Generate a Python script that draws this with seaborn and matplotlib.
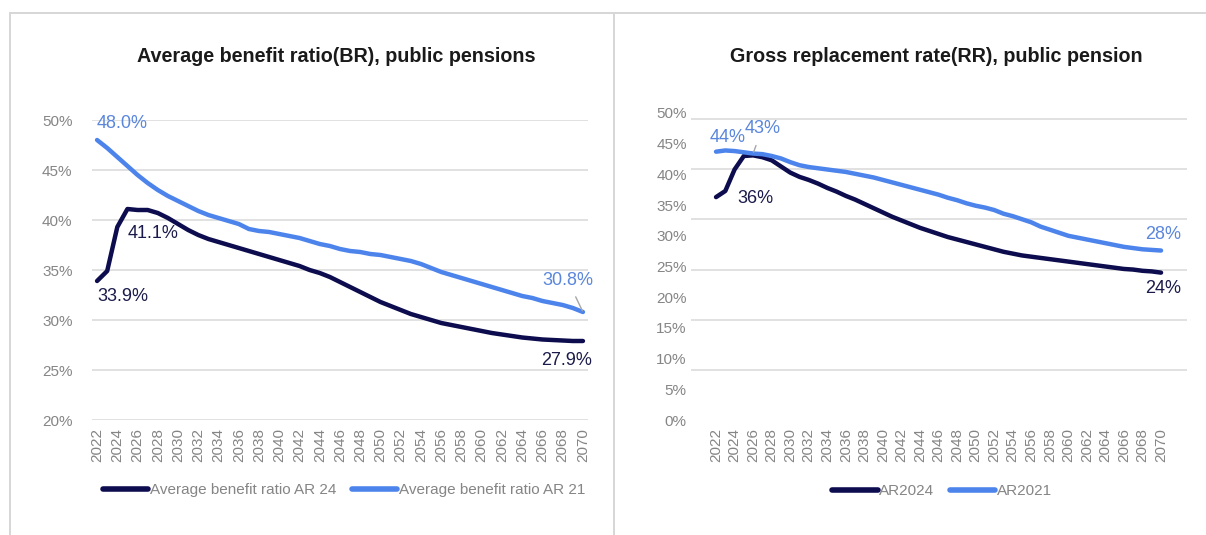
import numpy as np
import pandas as pd
import matplotlib
matplotlib.use("Agg")
import matplotlib.pyplot as plt
from matplotlib.lines import Line2D
from matplotlib.ticker import FuncFormatter, FixedLocator
import seaborn as sns

# ---- data -------------------------------------------------------------
years = list(range(2022, 2071))

# Average benefit ratio (%), public pensions
br_ar24 = [33.9, 34.9, 39.3, 41.1, 41.0, 41.0, 40.7, 40.2, 39.6, 39.0,
           38.5, 38.1, 37.8, 37.5, 37.2, 36.9, 36.6, 36.3, 36.0, 35.7,
           35.4, 35.0, 34.7, 34.3, 33.8, 33.3, 32.8, 32.3, 31.8, 31.4,
           31.0, 30.6, 30.3, 30.0, 29.7, 29.5, 29.3, 29.1, 28.9, 28.7,
           28.55, 28.4, 28.25, 28.15, 28.05, 28.0, 27.95, 27.9, 27.9]
br_ar21 = [48.0, 47.2, 46.3, 45.4, 44.5, 43.7, 43.0, 42.4, 41.9, 41.4,
           40.9, 40.5, 40.2, 39.9, 39.6, 39.1, 38.9, 38.8, 38.6, 38.4,
           38.2, 37.9, 37.6, 37.4, 37.1, 36.9, 36.8, 36.6, 36.5, 36.3,
           36.1, 35.9, 35.6, 35.2, 34.8, 34.5, 34.2, 33.9, 33.6, 33.3,
           33.0, 32.7, 32.4, 32.2, 31.9, 31.7, 31.5, 31.2, 30.8]

# Gross replacement rate (%), public pension
rr_ar2024 = [36.3, 37.3, 40.8, 43.0, 43.1, 42.8, 42.3, 41.3, 40.3, 39.6,
             39.1, 38.5, 37.8, 37.2, 36.5, 35.9, 35.2, 34.5, 33.8, 33.1,
             32.5, 31.9, 31.3, 30.8, 30.3, 29.8, 29.4, 29.0, 28.6, 28.2,
             27.8, 27.4, 27.1, 26.8, 26.6, 26.4, 26.2, 26.0, 25.8, 25.6,
             25.4, 25.2, 25.0, 24.8, 24.6, 24.5, 24.3, 24.2, 24.0]
rr_ar2021 = [43.7, 43.9, 43.8, 43.6, 43.4, 43.3, 43.0, 42.6, 42.0, 41.5,
             41.2, 41.0, 40.8, 40.6, 40.4, 40.1, 39.8, 39.5, 39.1, 38.7,
             38.3, 37.9, 37.5, 37.1, 36.7, 36.2, 35.8, 35.3, 34.9, 34.6,
             34.2, 33.6, 33.2, 32.7, 32.2, 31.5, 31.0, 30.5, 30.0, 29.7,
             29.4, 29.1, 28.8, 28.5, 28.2, 28.0, 27.8, 27.7, 27.6]

br_names = ["Average benefit ratio AR 24", "Average benefit ratio AR 21"]
rr_names = ["AR2024", "AR2021"]
titles = ["Average benefit ratio(BR), public pensions",
          "Gross replacement rate(RR), public pension"]

# ---- style ------------------------------------------------------------
sns.set_style("white")
plt.rcParams["font.family"] = ["Liberation Sans", "DejaVu Sans"]

NAVY = "#0c0c4e"
BLUE = "#4c84ec"
NAVY_TXT = "#1b1b4b"
BLUE_TXT = "#5a86dc"
GRID = "#d9d9d9"
TICK = "#858585"

W, H = 1206, 535
fig = plt.figure(figsize=(W / 100, H / 100), dpi=100)


def px_axes(x0, y_top, x1, y_bot):
    return fig.add_axes([x0 / W, 1 - y_bot / H, (x1 - x0) / W, (y_bot - y_top) / H])


def long_frame(a, b, names):
    idx = np.arange(len(years))
    return pd.DataFrame({
        "pos": np.concatenate([idx, idx]),
        "value": np.concatenate([a, b]),
        "series": [names[0]] * len(a) + [names[1]] * len(b),
    })


def draw_panel(ax, a, b, names):
    df = long_frame(a, b, names)
    sns.lineplot(data=df, x="pos", y="value", hue="series", hue_order=names,
                 palette={names[0]: NAVY, names[1]: BLUE}, lw=3.2, ax=ax,
                 legend=True)
    for ln in ax.get_lines():
        ln.set_solid_capstyle("round")
    ax.set_xlabel("")
    ax.set_ylabel("")
    for s in ax.spines.values():
        s.set_visible(False)
    ax.set_xticks(np.arange(0, len(years), 2))
    ax.set_xticklabels([str(y) for y in years[::2]], rotation=90)
    ax.tick_params(axis="both", length=0, colors=TICK, labelsize=11)
    ax.tick_params(axis="x", pad=6)
    ax.yaxis.set_major_formatter(FuncFormatter(lambda v, _: f"{v:.0f}%"))


# ---- left panel: benefit ratio -----------------------------------------
axL = px_axes(92, 120, 588, 420)
draw_panel(axL, br_ar24, br_ar21, br_names)
axL.set_xlim(-0.5, len(years) - 0.5)
axL.set_ylim(20, 50)
axL.set_yticks(np.arange(20, 51, 5))
axL.tick_params(axis="y", pad=14)
axL.grid(axis="y", color=GRID, lw=1.1)
axL.set_axisbelow(True)

# ---- right panel: replacement rate -------------------------------------
axR = px_axes(691, 113, 1187, 420)
draw_panel(axR, rr_ar2024, rr_ar2021, rr_names)
axR.set_xlim(-2.7, len(years) - 1 + 2.8)
axR.set_ylim(0, 50)
axR.set_yticks(np.arange(0, 51, 5))
axR.tick_params(axis="y", pad=3)
axR.yaxis.set_minor_locator(FixedLocator(np.linspace(0, 49, 7)))
axR.grid(axis="y", which="minor", color=GRID, lw=1.1)
axR.grid(axis="y", which="major", visible=False)
axR.tick_params(axis="y", which="minor", length=0)
axR.set_axisbelow(True)

# ---- legends -----------------------------------------------------------
for ax, anchor in ((axL, (0.508, -0.233)), (axR, (0.506, -0.231))):
    sns.move_legend(ax, "center", bbox_to_anchor=anchor, ncol=2, frameon=False,
                    title=None, fontsize=11, handlelength=3.0,
                    handletextpad=0.1, columnspacing=1.0)
    leg = ax.get_legend()
    for h in leg.legend_handles:
        h.set_linewidth(4)
        h.set_solid_capstyle("round")
    for t in leg.get_texts():
        t.set_color(TICK)

# ---- titles ------------------------------------------------------------
fig.text(336 / W, 1 - 56 / H, titles[0], ha="center", va="center",
         fontsize=14.2, fontweight="bold", color="#1a1a1a")
fig.text(936 / W, 1 - 56 / H, titles[1], ha="center", va="center",
         fontsize=14.2, fontweight="bold", color="#1a1a1a")

# ---- data labels -------------------------------------------------------
def label(ax, i, series, txt, color, dx, dy, ha="left", leader=False):
    kw = dict(textcoords="offset points", xytext=(dx, dy), ha=ha, va="center",
              fontsize=13, color=color)
    if leader:
        kw["arrowprops"] = dict(arrowstyle="-", color="#a6a6a6", lw=1,
                                shrinkA=4, shrinkB=1)
    ax.annotate(txt, xy=(i, series[i]), **kw)


last = len(years) - 1
label(axL, 0, br_ar21, f"{br_ar21[0]:.1f}%", BLUE_TXT, 0, 12)
label(axL, 0, br_ar24, f"{br_ar24[0]:.1f}%", NAVY_TXT, 0, -11.5)
label(axL, 3, br_ar24, f"{br_ar24[3]:.1f}%", NAVY_TXT, 0, -18)
label(axL, last, br_ar21, f"{br_ar21[last]:.1f}%", BLUE_TXT, -11, 23,
      ha="center", leader=True)
label(axL, last, br_ar24, f"{br_ar24[last]:.1f}%", NAVY_TXT, -12, -14,
      ha="center")

label(axR, 0, rr_ar2021, f"{rr_ar2021[0]:.0f}%", BLUE_TXT, 8, 10, ha="center")
label(axR, 4, rr_ar2021, f"{rr_ar2021[4]:.0f}%", BLUE_TXT, 6.5, 18,
      ha="center", leader=True)
label(axR, 0, rr_ar2024, f"{rr_ar2024[0]:.0f}%", NAVY_TXT, 28, -1, ha="center")
label(axR, last, rr_ar2021, f"{rr_ar2021[last]:.0f}%", BLUE_TXT, 1.5, 11.5,
      ha="center")
label(axR, last, rr_ar2024, f"{rr_ar2024[last]:.0f}%", NAVY_TXT, 1.5, -11.5,
      ha="center")

# ---- panel frame -------------------------------------------------------
frame_kw = dict(transform=fig.transFigure, color="#d6d6d6", lw=1.4)
fig.add_artist(Line2D([10 / W, 1], [1 - 13 / H, 1 - 13 / H], **frame_kw))
fig.add_artist(Line2D([10 / W, 10 / W], [0, 1 - 13 / H], **frame_kw))
fig.add_artist(Line2D([614 / W, 614 / W], [0, 1 - 13 / H], **frame_kw))

fig.savefig("out.png", dpi=100)
